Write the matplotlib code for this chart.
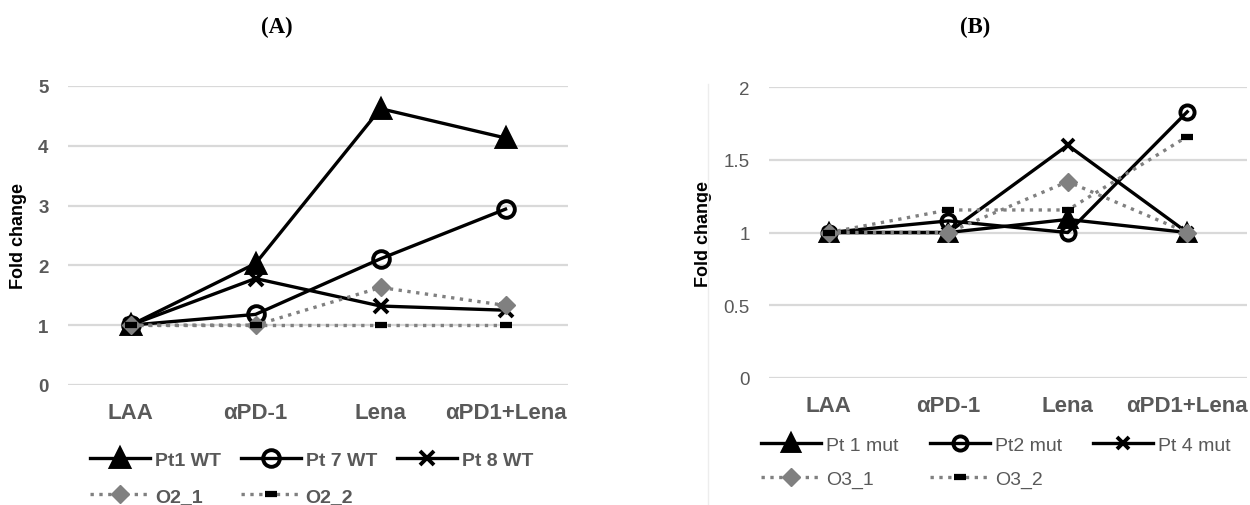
import matplotlib
matplotlib.use('Agg')
import matplotlib.pyplot as plt
from matplotlib.lines import Line2D

plt.rcParams['font.family'] = ['Liberation Sans', 'DejaVu Sans']

categories = ['LAA', 'αPD-1', 'Lena', 'αPD1+Lena']

# panel A (WT)
pt1_wt = [1.0, 2.03, 4.62, 4.13]
pt7_wt = [1.0, 1.18, 2.11, 2.94]
pt8_wt = [1.0, 1.78, 1.32, 1.25]
o2_1 = [1.0, 1.0, 1.63, 1.33]
o2_2 = [1.0, 1.0, 1.0, 1.0]

# panel B (mut)
pt1_mut = [1.0, 1.0, 1.09, 1.0]
pt2_mut = [1.0, 1.08, 1.0, 1.83]
pt4_mut = [1.0, 1.0, 1.60, 1.0]
o3_1 = [1.0, 1.0, 1.35, 1.0]
o3_2 = [1.0, 1.155, 1.155, 1.66]

GRAY = '#595959'
MGRAY = '#808080'


def draw(ax, solids, dotted, yticks, ylim, msc, tickweight):
    x = range(len(categories))
    mk = [('^', 13 * msc, 'k'), ('o', 12 * msc, 'none'), ('x', 10 * msc, 'k')]
    hs = []
    for vals, (m, ms, fc) in zip(solids, mk):
        h, = ax.plot(x, vals, '-', color='k', lw=2.4, marker=m, ms=ms,
                     mfc=fc, mec='k', mew=2.8, zorder=3)
        hs.append(h)
    h, = ax.plot(x, dotted[0], ':', color=MGRAY, lw=2.4, marker='D', ms=9,
                 mfc=MGRAY, mec=MGRAY, zorder=4)
    hs.append(h)
    h, = ax.plot(x, dotted[1], ':', color=MGRAY, lw=2.4, marker='_', ms=8,
                 mec='k', mew=4.5, zorder=4)
    hs.append(h)
    ax.set_xlim(-0.5, 3.5)
    ax.set_ylim(*ylim)
    ax.set_yticks(yticks)
    ax.set_yticklabels([('%g' % v) for v in yticks], color=GRAY,
                       fontsize=13.5, fontweight=tickweight)
    ax.set_xticks(list(x))
    ax.set_xticklabels(categories, color=GRAY, fontsize=16, fontweight='bold')
    ax.grid(axis='y', color='#d9d9d9', lw=1.6)
    ax.set_axisbelow(True)
    for s in ax.spines.values():
        s.set_visible(False)
    ax.tick_params(axis='x', length=0, pad=12)
    ax.tick_params(axis='y', length=0, pad=14)
    ax.set_ylabel('Fold change', fontsize=13, fontweight='bold', labelpad=8)
    order = [0, 3, 1, 4, 2]
    return [hs[i] for i in order]


fig = plt.figure(figsize=(12.5, 5.06), dpi=100)

axA = fig.add_axes([0.0544, 0.2372, 0.4, 0.591])
hA = draw(axA, [pt1_wt, pt7_wt, pt8_wt], [o2_1, o2_2],
          [0, 1, 2, 3, 4, 5], (0, 5), 1.0, 'bold')
namesA = ['Pt1 WT', 'O2_1', 'Pt 7 WT', 'O2_2', 'Pt 8 WT']
legA = fig.legend(hA, namesA, ncol=3, loc='upper left', frameon=False,
                  prop={'size': 14, 'weight': 'bold'}, labelcolor=GRAY,
                  handlelength=3.1, handletextpad=0.25, columnspacing=1.0,
                  labelspacing=0.95, borderpad=0, borderaxespad=0)
legA.set_bbox_to_anchor((90 / 1250, 1 - 452 / 506), transform=fig.transFigure)

axB = fig.add_axes([0.6152, 0.251, 0.3824, 0.575])
hB = draw(axB, [pt1_mut, pt2_mut, pt4_mut], [o3_1, o3_2],
          [0, 0.5, 1, 1.5, 2], (0, 2), 0.85, 'normal')
namesB = ['Pt 1 mut', 'O3_1', 'Pt2 mut', 'O3_2', 'Pt 4 mut']
legB = fig.legend(hB, namesB, ncol=3, loc='upper left', frameon=False,
                  prop={'size': 14}, labelcolor=GRAY,
                  handlelength=3.1, handletextpad=0.25, columnspacing=1.6,
                  labelspacing=0.85, borderpad=0, borderaxespad=0)
legB.set_bbox_to_anchor((761 / 1250, 1 - 437 / 506), transform=fig.transFigure)

# faint frame edge left of panel B
fig.add_artist(Line2D([708 / 1250, 708 / 1250], [0, 1 - 85 / 506],
                      transform=fig.transFigure, color='#ededed', lw=1))

fig.text(277 / 1250, 1 - 27 / 506, '(A)', family='Liberation Serif',
         fontweight='bold', fontsize=16.5, ha='center', va='center')
fig.text(975 / 1250, 1 - 27 / 506, '(B)', family='Liberation Serif',
         fontweight='bold', fontsize=16.5, ha='center', va='center')

fig.savefig('out.png', dpi=100)
